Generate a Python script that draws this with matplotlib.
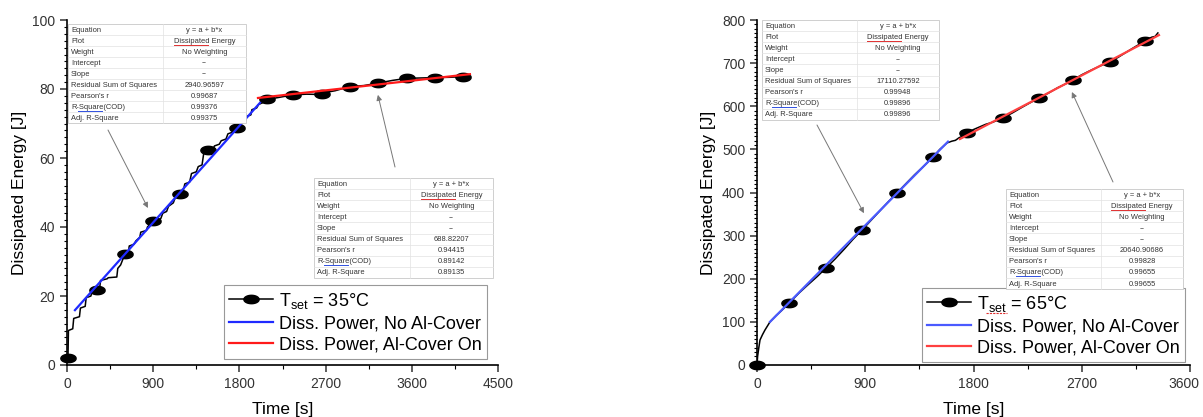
import numpy as np
import matplotlib
matplotlib.use('Agg')
import matplotlib.pyplot as plt
from matplotlib.patches import Rectangle
from matplotlib.lines import Line2D
from matplotlib.ticker import MultipleLocator

plt.rcParams['font.family'] = ['Liberation Sans', 'DejaVu Sans']
plt.rcParams['mathtext.fontset'] = 'custom'
plt.rcParams['mathtext.rm'] = 'Liberation Sans'

# ---- data: T_set = 35 C ----
t35 = [10, 15, 60, 70, 130, 140, 190, 200, 250, 260, 313, 340, 350, 420, 430, 520, 530, 560,
       605, 640, 650, 700, 720, 760, 770, 830, 840, 900, 960, 980, 1000, 1040, 1060, 1110,
       1130, 1180, 1210, 1230, 1280, 1300, 1350, 1370, 1410, 1430, 1470, 1520, 1540, 1590,
       1610, 1660, 1680, 1730, 1775, 1800, 1810, 1860, 1870, 1920, 1930, 1980, 2000, 2040,
       2060, 2090, 2200, 2360, 2500, 2662, 2700, 2800, 2954, 3100, 3246, 3400, 3549, 3700,
       3841, 4000, 4134]
e35 = [2, 10, 10.5, 13.5, 14, 16.5, 17, 19.5, 20, 21.5, 21.7, 22, 24.5, 25, 25.3, 25.5, 28, 29,
       32.2, 32.5, 34.5, 35, 36, 37, 38.5, 39, 40, 41.7, 42, 42.5, 44, 44.5, 46, 47,
       48.5, 49.6, 50, 52.5, 53, 55.5, 56, 57.5, 58, 61.8, 62.3, 62.5, 63.5, 64,
       65, 65.5, 67, 67.5, 68.7, 69, 70, 70.5, 72, 72.5, 74, 74.5, 75.5, 76,
       77, 77, 77.5, 78.3, 78.5, 78.4, 79, 79.5, 80.7, 81, 81.7, 82.5, 83.1, 83.2,
       83.3, 83.4, 83.6]
t35_mk = [10, 313, 605, 900, 1180, 1470, 1775, 2090, 2360, 2662, 2954, 3246, 3549, 3841, 4134]
e35_mk = [2, 21.7, 32.2, 41.7, 49.6, 62.3, 68.7, 77, 78.3, 78.5, 80.7, 81.7, 83.1, 83.3, 83.6]
t35_fit1 = [83, 2015]
e35_fit1 = [15.9, 76.0]
t35_fit2 = [1994, 4207]
e35_fit2 = [77.4, 84.3]

# ---- data: T_set = 65 C ----
t65 = [0, 5, 15, 25, 45, 66, 108, 160, 200, 266, 350, 420, 500, 574, 650, 730, 800, 873, 950,
       1020, 1090, 1164, 1240, 1310, 1390, 1463, 1520, 1580, 1620, 1650, 1680, 1704, 1746,
       1800, 1850, 1900, 1960, 2045, 2120, 2200, 2270, 2344, 2420, 2500, 2560, 2627, 2700,
       2780, 2850, 2934, 3000, 3080, 3150, 3225, 3280, 3310, 3333]
e65 = [0, 20, 40, 58, 70, 81, 100, 115, 125, 143, 167, 185, 205, 225, 246, 270, 292, 313, 336,
       357, 378, 399, 421, 441, 462, 482, 500, 515, 519, 521, 527, 530, 538,
       546, 552, 558, 563, 573, 584, 597, 608, 619, 630, 643, 651, 661, 673,
       684, 693, 703, 713, 727, 739, 751, 760, 762, 770]
t65_mk = [0, 270, 574, 873, 1164, 1463, 1746, 2045, 2344, 2627, 2934, 3225]
e65_mk = [0, 143, 225, 313, 399, 482, 538, 573, 619, 661, 703, 751]
t65_fit1 = [108, 1588]
e65_fit1 = [100, 518]
t65_fit2 = [1687, 3342]
e65_fit2 = [524, 765]

row_names = ['Equation', 'Plot', 'Weight', 'Intercept', 'Slope',
             'Residual Sum of Squares', "Pearson's r", 'R-Square(COD)', 'Adj. R-Square']
tab_35a = ['y = a + b*x', 'Dissipated Energy', 'No Weighting', '--', '--',
           '2940.96597', '0.99687', '0.99376', '0.99375']
tab_35b = ['y = a + b*x', 'Dissipated Energy', 'No Weighting', '--', '--',
           '688.82207', '0.94415', '0.89142', '0.89135']
tab_65a = ['y = a + b*x', 'Dissipated Energy', 'No Weighting', '--', '--',
           '17110.27592', '0.99948', '0.99896', '0.99896']
tab_65b = ['y = a + b*x', 'Dissipated Energy', 'No Weighting', '--', '--',
           '20640.90686', '0.99828', '0.99655', '0.99655']

W, H = 1203, 417
fig = plt.figure(figsize=(W / 100, H / 100), dpi=100)

th = np.linspace(0, 2 * np.pi, 40)
ellipse = list(zip(np.cos(th), 0.55 * np.sin(th)))


def hline_px(x0, x1, y, color, lw=0.7, z=13):
    fig.add_artist(Line2D([x0 / W, x1 / W], [1 - y / H, 1 - y / H], color=color, lw=lw, zorder=z))


def draw_table(x0, y0, x1, y1, xdiv, vals):
    # coordinates are image pixels, y downwards
    n = len(row_names)
    rh = (y1 - y0) / n
    fig.add_artist(Rectangle((x0 / W, 1 - y1 / H), (x1 - x0) / W, (y1 - y0) / H,
                             transform=fig.transFigure, facecolor='white',
                             edgecolor='#c8c8c8', lw=0.6, zorder=10))
    for i in range(1, n):
        hline_px(x0, x1, y0 + i * rh, '#e2e2e2', lw=0.5, z=11)
    fig.add_artist(Line2D([xdiv / W, xdiv / W], [1 - y0 / H, 1 - y1 / H],
                          color='#e2e2e2', lw=0.5, zorder=11))
    xc = (xdiv + x1) / 2
    for i, (name, v) in enumerate(zip(row_names, vals)):
        yc = 1 - (y0 + (i + 0.55) * rh) / H
        fig.text((x0 + 3) / W, yc, name, ha='left', va='center', fontsize=5.4,
                 color='#333333', zorder=12)
        fig.text(xc / W, yc, v, ha='center', va='center', fontsize=5.4,
                 color='#333333', zorder=12)
    # spell-check underlines
    hline_px(xc - 31, xc + 3, y0 + 1.55 * rh + 3.5, '#e03030')
    hline_px(x0 + 10, x0 + 34, y0 + 7.55 * rh + 3.5, '#3050e0')


def setup(ax, xmax, ymax, ymaj, ymin):
    ax.set_xlim(0, xmax)
    ax.set_ylim(0, ymax)
    ax.spines['top'].set_visible(False)
    ax.spines['right'].set_visible(False)
    ax.spines['left'].set_linewidth(1.2)
    ax.spines['bottom'].set_linewidth(1.2)
    ax.xaxis.set_major_locator(MultipleLocator(900))
    ax.xaxis.set_minor_locator(MultipleLocator(450))
    ax.yaxis.set_major_locator(MultipleLocator(ymaj))
    ax.yaxis.set_minor_locator(MultipleLocator(ymin))
    ax.tick_params(which='major', direction='out', length=5, width=1.1,
                   labelsize=10, colors='#333333')
    ax.tick_params(which='minor', direction='out', length=2, width=0.8)
    ax.tick_params(axis='x', which='minor', length=3)
    ax.set_xlabel('Time [s]', fontsize=12.5, labelpad=8)
    ax.set_ylabel('Dissipated Energy [J]', fontsize=12.5, labelpad=4)


def panel(ax, t, e, tm, em, tf1, ef1, tf2, ef2, temp, blue, red, leg_xy):
    ax.plot(t, e, color='black', lw=1.1, zorder=3)
    ax.plot(tm, em, ls='none', marker=ellipse, ms=11, color='black',
            zorder=4, clip_on=False)
    l1, = ax.plot(tf1, ef1, color=blue, lw=1.6, zorder=5)
    l2, = ax.plot(tf2, ef2, color=red, lw=1.6, zorder=5)
    hl = Line2D([], [], color='black', lw=1.1, marker=ellipse, ms=11)
    leg = ax.legend([hl, l1, l2],
                    [r'T$_{\rm set}$ = %d°C' % temp, 'Diss. Power, No Al-Cover',
                     'Diss. Power, Al-Cover On'],
                    loc='lower right', bbox_to_anchor=(leg_xy[0] / W, 1 - leg_xy[1] / H),
                    bbox_transform=fig.transFigure, fontsize=13, frameon=True,
                    fancybox=False, edgecolor='#999999', framealpha=1,
                    handlelength=2.4, handletextpad=0.35, labelspacing=0.25,
                    borderpad=0.3, borderaxespad=0)
    leg.get_frame().set_linewidth(0.8)
    leg.set_zorder(20)
    return leg


ax1 = fig.add_axes([67 / W, 1 - 365 / H, (498 - 67) / W, 345 / H])
setup(ax1, 4500, 100, 20, 2)
panel(ax1, t35, e35, t35_mk, e35_mk, t35_fit1, e35_fit1, t35_fit2, e35_fit2,
      35, '#1f2aff', '#ff1a1a', (487, 359))

ax2 = fig.add_axes([757 / W, 1 - 365 / H, (1190 - 757) / W, 345 / H])
setup(ax2, 3600, 800, 100, 10)
leg2 = panel(ax2, t65, e65, t65_mk, e65_mk, t65_fit1, e65_fit1, t65_fit2, e65_fit2,
             65, '#4a5aff', '#ff4040', (1185, 362))

arrow = dict(arrowstyle='-|>', color='#777777', lw=0.7, mutation_scale=8, shrinkA=0, shrinkB=0)
ax1.annotate('', xy=(845, 45.5), xytext=(108, H - 130), textcoords='figure pixels',
             arrowprops=arrow, annotation_clip=False)
ax1.annotate('', xy=(3246, 78.3), xytext=(395, H - 167), textcoords='figure pixels',
             arrowprops=arrow, annotation_clip=False)
ax2.annotate('', xy=(889, 352), xytext=(817, H - 125), textcoords='figure pixels',
             arrowprops=arrow, annotation_clip=False)
ax2.annotate('', xy=(2618, 633), xytext=(1113, H - 182), textcoords='figure pixels',
             arrowprops=arrow, annotation_clip=False)

draw_table(68, 24, 246, 123, 163, tab_35a)
draw_table(314, 178, 493, 278, 410, tab_35b)
draw_table(762, 20, 939, 120, 857, tab_65a)
draw_table(1006, 189, 1183, 289, 1101, tab_65b)

# right panel: last x tick label sits slightly left so it stays inside the figure
fig.canvas.draw()
ax2.set_xticks([0, 900, 1800, 2700, 3600], ['0', '900', '1800', '2700', ''])
bb0 = ax2.get_xticklabels()[0].get_window_extent()
fig.text((W - 4) / W, (bb0.y0 + bb0.y1) / 2 / H, '3600', ha='right', va='center',
         fontsize=10, color='#333333')

# red squiggle under "set" in the right legend
bb = leg2.get_texts()[0].get_window_extent()
fig.add_artist(Line2D([(bb.x0 + 9) / W, (bb.x0 + 30) / W], [(bb.y0 + 1) / H] * 2,
                      color='#e03030', lw=0.8, ls=(0, (2, 1)), zorder=25))

fig.savefig('out.png', dpi=100)
